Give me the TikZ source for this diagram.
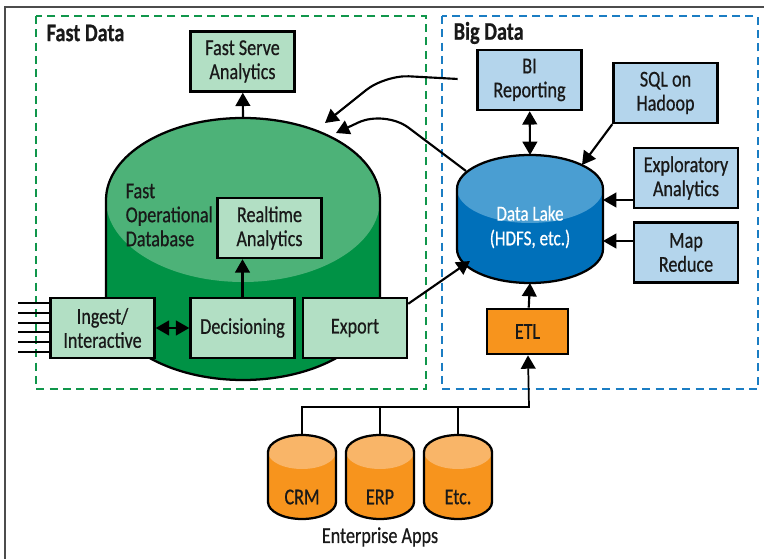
\documentclass[tikz,border=0pt]{standalone}
\usepackage{fontspec}
\setmainfont{Carlito}[FakeStretch=0.8, FakeBold=0.6]
\usepackage{xcolor}
\usepackage{tikz}
\usetikzlibrary{positioning,arrows.meta,calc}

\definecolor{fdgreen}{RGB}{0,146,69}
\definecolor{fdgreentop}{RGB}{77,178,120}
\definecolor{fdbox}{RGB}{178,223,196}
\definecolor{fddash}{RGB}{16,150,75}
\definecolor{bdblue}{RGB}{0,112,186}
\definecolor{bdbluetop}{RGB}{74,158,210}
\definecolor{bdbox}{RGB}{180,213,236}
\definecolor{bddash}{RGB}{27,125,195}
\definecolor{eaorange}{RGB}{247,148,29}
\definecolor{eaorangetop}{RGB}{249,181,104}

\begin{document}
\begin{tikzpicture}[x=0.75pt,y=-0.75pt,
  every node/.style={font=\fontsize{17}{18}\selectfont, text=black!90},
  box/.style={draw, line width=1.8pt, align=center, minimum width=78pt, minimum height=45pt, inner sep=1pt},
  gbox/.style={box, fill=fdbox},
  bbox/.style={box, fill=bdbox},
  arr/.style={line width=1.6pt, -{Triangle[length=10pt,width=11pt]}},
  darr/.style={line width=1.6pt, {Triangle[length=10pt,width=11pt]}-{Triangle[length=10pt,width=11pt]}},
  zone/.style={line width=1.6pt, dash pattern=on 6pt off 4pt},
  zonelabel/.style={font=\fontsize{19}{20}\selectfont\bfseries, anchor=west},
  outline/.style={draw, line width=1.7pt}]
  \useasboundingbox (0,0) rectangle (764,559);
  \draw[black!70, line width=1.2pt] (5,559) -- (5,7) -- (764,7);

  % zones
  \draw[zone, fddash] (36,16) rectangle (426,389);
  \draw[zone, bddash] (442,16) rectangle (758,389);
  \node (fastdata) at (42,33) [zonelabel] {Fast Data};
  \node (bigdata) at (449,33) [zonelabel] {Big Data};

  % fast operational database
  \fill[fdgreen] (106,200) arc[start angle=180, end angle=360, x radius=137, y radius=82]
    -- (380,298) arc[start angle=0, end angle=180, x radius=137, y radius=82] -- cycle;
  \fill[fdgreentop] (243,200) ellipse[x radius=137, y radius=82];
  \draw[outline] (106,200) arc[start angle=180, end angle=360, x radius=137, y radius=82]
    -- (380,298) arc[start angle=0, end angle=180, x radius=137, y radius=82] -- cycle;
  \node (fodb) at (121,215) [anchor=west, align=left] {Fast\\Operational\\Database};
  \coordinate (fodb-top) at (243,118);
  \coordinate (fodb-in1) at (325,123);
  \coordinate (fodb-in2) at (336,133);

  % data lake
  \fill[bdblue] (457,189) arc[start angle=180, end angle=360, x radius=73, y radius=34]
    -- (603,249) arc[start angle=0, end angle=180, x radius=73, y radius=34] -- cycle;
  \fill[bdbluetop] (530,189) ellipse[x radius=73, y radius=34];
  \draw[outline] (457,189) arc[start angle=180, end angle=360, x radius=73, y radius=34]
    -- (603,249) arc[start angle=0, end angle=180, x radius=73, y radius=34] -- cycle;
  \node (lake) at (530,227) [text=white, align=center, font=\fontsize{16}{18.5}\selectfont] {Data Lake\\(HDFS, etc.)};
  \coordinate (lake-top) at (530,155);
  \coordinate (lake-ne) at (582,165);
  \coordinate (lake-e1) at (603,200);
  \coordinate (lake-e2) at (603,241);
  \coordinate (lake-bot) at (530,283);
  \coordinate (lake-sw) at (470,261);
  \coordinate (lake-nw) at (466,171);

  % enterprise apps
  \foreach \cx/\nm/\txt in {302/crm/CRM, 380/erp/ERP, 458/etcapp/Etc.}{
    \fill[eaorange] (\cx-34,452) arc[start angle=180, end angle=360, x radius=34, y radius=17]
      -- (\cx+34,502) arc[start angle=0, end angle=180, x radius=34, y radius=17] -- cycle;
    \fill[eaorangetop] (\cx,452) ellipse[x radius=34, y radius=17];
    \draw[outline] (\cx-34,452) arc[start angle=180, end angle=360, x radius=34, y radius=17]
      -- (\cx+34,502) arc[start angle=0, end angle=180, x radius=34, y radius=17] -- cycle;
    \node (\nm) at (\cx,497) {\txt};
    \coordinate (\nm-top) at (\cx,435);
  }
  \node (apps) at (380,537) {Enterprise Apps};
  \coordinate (bus) at (529,407);

  % boxes
  \node (fsa) at (242.5,61.5) [gbox] {Fast Serve\\Analytics};
  \node (rta) at (269.5,228) [gbox] {Realtime\\Analytics};
  \node (ing) at (102.5,328) [gbox] {Ingest/\\Interactive};
  \node (dec) at (242.5,328) [gbox] {Decisioning};
  \node (exp) at (355,328) [gbox] {Export};
  \node (bi) at (529.5,80) [bbox] {BI\\Reporting};
  \node (sql) at (665.5,93) [bbox] {SQL on\\Hadoop};
  \node (exa) at (686,178) [bbox] {Exploratory\\Analytics};
  \node (mapr) at (686,252.5) [bbox] {Map\\Reduce};
  \node (etl) at (527.5,331.5) [box, fill=eaorange, minimum width=61pt, minimum height=34pt] {ETL};

  % connectors
  \draw[arr] (fodb-top) -- (fsa);
  \draw[arr] (dec.north) -- (dec.north |- rta.south);
  \draw[darr] (ing) -- (dec);
  \foreach \y in {303,313,323,332,342,352}
    \draw[line width=1.3pt] (18,\y) -- (ing.west |- 0,\y);
  \draw[arr] ($(exp.north east)+(0,7)$) -- (lake-sw);
  \draw[arr, rounded corners=18pt, shorten <=14pt] (bi.west) -- (385,75) -- (fodb-in1);
  \draw[arr, rounded corners=22pt] (lake-nw) -- (385,110) -- (fodb-in2);
  \draw[darr] (bi) -- (lake-top);
  \draw[arr] (sql.south west) -- (lake-ne);
  \draw[arr] (exa.west |- lake-e1) -- (lake-e1);
  \draw[arr] (mapr.west |- lake-e2) -- (lake-e2);
  \draw[arr] (etl) -- (lake-bot);
  \draw[arr, line width=1.3pt] (crm-top) |- (bus) -- (etl);
  \draw[line width=1.3pt] (erp-top) -- (erp-top |- bus);
  \draw[line width=1.3pt] (etcapp-top) -- (etcapp-top |- bus);
\end{tikzpicture}
\end{document}
